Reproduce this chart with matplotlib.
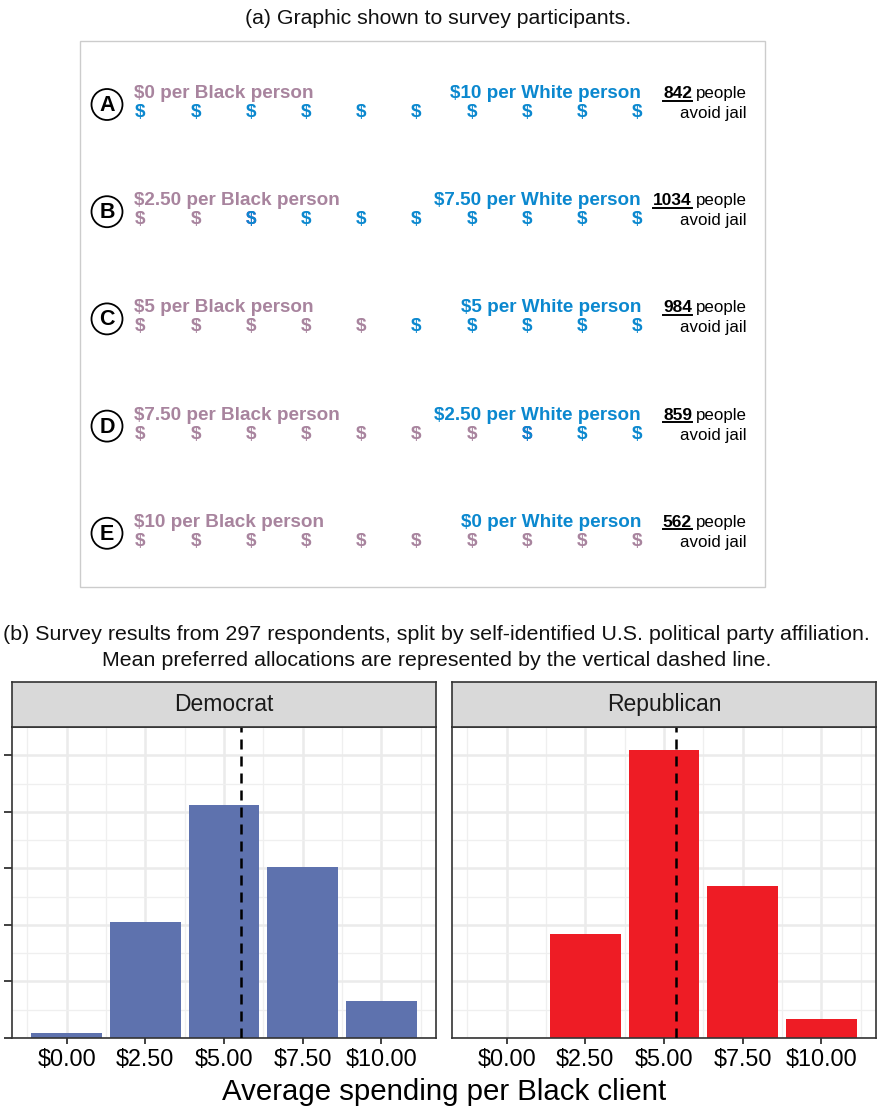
import matplotlib
matplotlib.use("Agg")
import matplotlib.pyplot as plt
from matplotlib.patches import Rectangle, Circle
from matplotlib.lines import Line2D

plt.rcParams['font.family'] = ['Liberation Sans', 'DejaVu Sans']

# ---- Scenario graphic data ----
row_letters = ['A', 'B', 'C', 'D', 'E']
black_amounts = [0, 2.5, 5, 7.5, 10]
white_amounts = [10, 7.5, 5, 2.5, 0]
people_avoid_jail = [842, 1034, 984, 859, 562]

# ---- Survey results (share of respondents per allocation) ----
allocations = [0, 2.5, 5, 7.5, 10]
tick_labels = ['$0.00', '$2.50', '$5.00', '$7.50', '$10.00']
dem_share = [0.009, 0.205, 0.412, 0.303, 0.066]
rep_share = [0.0, 0.184, 0.510, 0.268, 0.034]
parties = ['Democrat', 'Republican']

MAUVE = '#A8849E'
BLUE = '#0B88CF'
PURPLE = '#9A3FB8'
DEM_COLOR = '#5E72AE'
REP_COLOR = '#EE1C25'

W, H = 877, 1108
fig = plt.figure(figsize=(W / 100, H / 100), dpi=100)
canvas_ax = fig.add_axes([0, 0, 1, 1])
canvas_ax.set_xlim(0, W)
canvas_ax.set_ylim(H, 0)
canvas_ax.axis('off')
renderer = fig.canvas.get_renderer()


def fit_width(txt, width_px):
    w = txt.get_window_extent(renderer).width
    txt.set_fontsize(txt.get_fontsize() * width_px / w)
    return txt


def money(v):
    return f"${v:.0f}" if float(v).is_integer() else f"${v:.2f}"


# Title of panel (a)
t = canvas_ax.text(W / 2, 18, "(a) Graphic shown to survey participants.",
                   ha='center', va='center', fontsize=13, color='#111111')
fit_width(t, 386)

# Frame around the graphic
canvas_ax.add_patch(Rectangle((80, 41), 685, 546, fill=False,
                              edgecolor='#CCCCCC', lw=1.0))

row_step = 107.2
dollar_x0, dollar_dx = 140.5, 55.2
DOLLAR_FS = 13.8
for i, (letter, b, w_amt, n) in enumerate(zip(row_letters, black_amounts,
                                               white_amounts, people_avoid_jail)):
    y0 = 98 + i * row_step  # baseline of the heading line
    # Circled letter
    canvas_ax.add_patch(Circle((107, y0 + 6.5), 15.5, facecolor='white',
                               edgecolor='black', lw=1.3))
    canvas_ax.text(107, y0 + 7.5, letter, ha='center', va='center',
                   fontsize=15.5, fontweight='bold', color='black')
    # Headings
    canvas_ax.text(134, y0, f"{money(b)} per Black person", ha='left',
                   va='baseline', fontsize=13.6, fontweight='bold', color=MAUVE)
    canvas_ax.text(641, y0, f"{money(w_amt)} per White person", ha='right',
                   va='baseline', fontsize=13.6, fontweight='bold', color=BLUE)
    # Dollar signs: whole dollars to Black person in mauve, the rest blue,
    # a split dollar drawn half purple / half blue
    n_full = int(b)
    frac = b - n_full
    yd = y0 + 14.5
    for k in range(10):
        x = dollar_x0 + k * dollar_dx
        if k < n_full:
            canvas_ax.text(x, yd, '$', ha='center', va='center', fontsize=DOLLAR_FS,
                           fontweight='bold', color=MAUVE)
        elif k == n_full and frac > 0:
            top = canvas_ax.text(x, yd, '$', ha='center', va='center',
                                 fontsize=DOLLAR_FS, fontweight='bold', color=PURPLE)
            bot = canvas_ax.text(x, yd, '$', ha='center', va='center',
                                 fontsize=DOLLAR_FS, fontweight='bold', color=BLUE)
            r_top = Rectangle((x - 10, yd - 12), 20, 12.5, transform=canvas_ax.transData)
            r_bot = Rectangle((x - 10, yd + 0.5), 20, 12, transform=canvas_ax.transData)
            top.set_clip_path(r_top)
            bot.set_clip_path(r_bot)
        else:
            canvas_ax.text(x, yd, '$', ha='center', va='center', fontsize=DOLLAR_FS,
                           fontweight='bold', color=BLUE)
    # People who avoid jail
    ppl = canvas_ax.text(747, y0, "people", ha='right', va='baseline',
                         fontsize=12.2, color='black')
    bb = ppl.get_window_extent(renderer)
    x_left = canvas_ax.transData.inverted().transform((bb.x0, bb.y0))[0]
    num = canvas_ax.text(x_left - 4, y0, f"{n}", ha='right', va='baseline',
                         fontsize=12.5, fontweight='bold', color='black')
    nb = num.get_window_extent(renderer)
    nx0 = canvas_ax.transData.inverted().transform((nb.x0, nb.y0))[0]
    nx1 = canvas_ax.transData.inverted().transform((nb.x1, nb.y0))[0]
    canvas_ax.add_line(Line2D([nx0, nx1], [y0 + 2.5, y0 + 2.5], color='black', lw=1.4))
    canvas_ax.text(747, y0 + 20, "avoid jail", ha='right', va='baseline',
                   fontsize=12.2, color='black')

# Title of panel (b)
t1 = canvas_ax.text(W / 2 - 2, 634, "(b) Survey results from 297 respondents, split by "
                    "self-identified U.S. political party affiliation.",
                    ha='center', va='center', fontsize=13, color='#111111')
fit_width(t1, 863)
canvas_ax.text(W / 2 - 2, 660, "Mean preferred allocations are represented by the "
               "vertical dashed line.", ha='center', va='center',
               fontsize=t1.get_fontsize(), color='#111111')

# ---- Faceted bar charts ----
panel_top, panel_bot = 727, 1038
strip_top = 682
panels_x = [(12, 436), (452, 876)]
shares = [dem_share, rep_share]
colors = [DEM_COLOR, REP_COLOR]
ymax = max(max(dem_share), max(rep_share)) * 1.05
bar_w = 2.5 * 0.9
span = (allocations[-1] + bar_w / 2) - (allocations[0] - bar_w / 2)
xlo = allocations[0] - bar_w / 2 - 0.05 * span
xhi = allocations[-1] + bar_w / 2 + 0.05 * span

for idx, ((x0, x1), party, share, col) in enumerate(zip(panels_x, parties, shares, colors)):
    ax = fig.add_axes([x0 / W, (H - panel_bot) / H, (x1 - x0) / W,
                       (panel_bot - panel_top) / H])
    ax.set_facecolor('white')
    ax.bar(allocations, share, width=bar_w, color=col, zorder=2)
    mean = sum(a * s for a, s in zip(allocations, share)) / sum(share)
    ax.axvline(mean, color='black', ls=(0, (4, 2.8)), lw=1.8, zorder=3)
    ax.set_xlim(xlo, xhi)
    ax.set_ylim(0, ymax)
    ax.set_xticks(allocations)
    ax.set_xticklabels(tick_labels, fontsize=16.8, color='black')
    ax.set_xticks([a + 1.25 for a in [-2.5] + allocations], minor=True)
    yt = [0.0, 0.1, 0.2, 0.3, 0.4, 0.5]
    ax.set_yticks(yt)
    ax.set_yticks([v + 0.05 for v in yt], minor=True)
    ax.set_yticklabels([])
    ax.grid(which='major', color='#EBEBEB', lw=1.8)
    ax.grid(which='minor', color='#EFEFEF', lw=0.9)
    ax.set_axisbelow(True)
    ax.tick_params(which='minor', length=0)
    ax.tick_params(axis='x', which='major', length=4.5, width=1.3, color='#333333', pad=3)
    if idx == 0:
        ax.tick_params(axis='y', which='major', length=5.8, width=1.3, color='#333333')
    else:
        ax.tick_params(axis='y', which='major', length=0)
    for sp in ax.spines.values():
        sp.set_color('#333333')
        sp.set_linewidth(1.2)

    sax = fig.add_axes([x0 / W, (H - panel_top) / H, (x1 - x0) / W,
                        (panel_top - strip_top) / H])
    sax.set_facecolor('#D9D9D9')
    sax.set_xticks([])
    sax.set_yticks([])
    for sp in sax.spines.values():
        sp.set_color('#333333')
        sp.set_linewidth(1.2)
    sax.text(0.5, 0.5, party, ha='center', va='center', fontsize=16.5,
             color='#1A1A1A', transform=sax.transAxes)

xt = canvas_ax.text((panels_x[0][0] + panels_x[1][1]) / 2, 1092,
                    "Average spending per Black client", ha='center', va='center',
                    fontsize=19.5, color='black', zorder=5)
fit_width(xt, 445)

fig.savefig('out.png', dpi=100)
